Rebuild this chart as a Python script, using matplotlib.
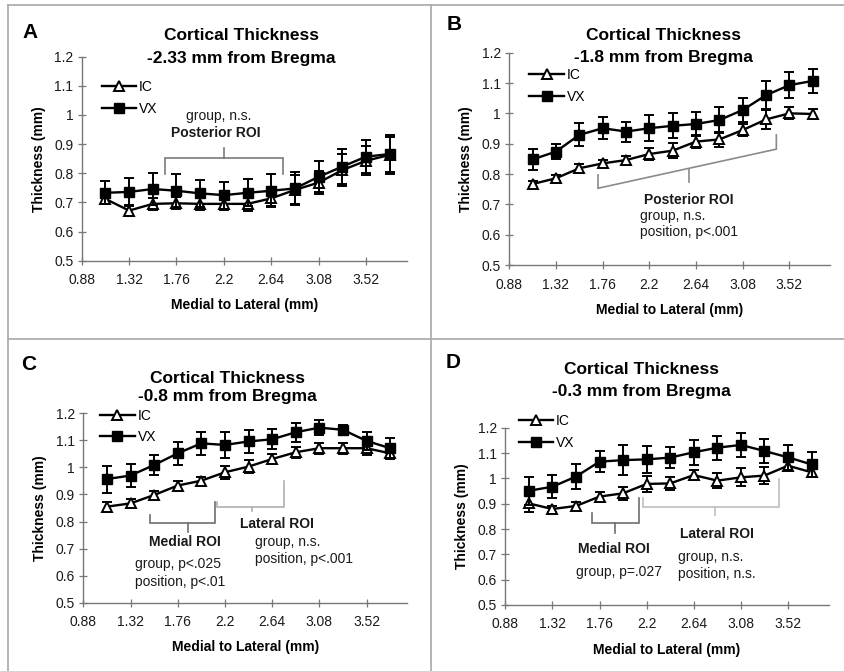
import matplotlib
matplotlib.use("Agg")
import matplotlib.pyplot as plt
from matplotlib.lines import Line2D

plt.rcParams['font.family'] = ['Liberation Sans', 'DejaVu Sans']

# ---------------- data ----------------
positions = [1.10, 1.32, 1.54, 1.76, 1.98, 2.20, 2.42, 2.64, 2.86, 3.08, 3.30, 3.52, 3.74]
x_ticks = [0.88, 1.32, 1.76, 2.2, 2.64, 3.08, 3.52]
x_tick_labels = ["0.88", "1.32", "1.76", "2.2", "2.64", "3.08", "3.52"]
y_ticks = [0.5, 0.6, 0.7, 0.8, 0.9, 1.0, 1.1, 1.2]
y_tick_labels = ["0.5", "0.6", "0.7", "0.8", "0.9", "1", "1.1", "1.2"]
series_names = ["IC", "VX"]

ic_a = [0.712, 0.672, 0.695, 0.697, 0.695, 0.695, 0.695, 0.714, 0.743, 0.768, 0.811, 0.843, 0.863]
ic_a_err = [0.015, 0.018, 0.02, 0.02, 0.02, 0.02, 0.025, 0.025, 0.05, 0.04, 0.055, 0.05, 0.06]
vx_a = [0.733, 0.736, 0.746, 0.740, 0.731, 0.725, 0.733, 0.740, 0.748, 0.788, 0.823, 0.857, 0.866]
vx_a_err = [0.040, 0.047, 0.054, 0.056, 0.046, 0.046, 0.047, 0.057, 0.056, 0.053, 0.061, 0.056, 0.067]

ic_b = [0.767, 0.786, 0.819, 0.835, 0.846, 0.866, 0.877, 0.907, 0.914, 0.945, 0.980, 1.000, 0.998]
ic_b_err = [0.010, 0.010, 0.015, 0.012, 0.015, 0.020, 0.025, 0.020, 0.025, 0.020, 0.030, 0.020, 0.015]
vx_b = [0.848, 0.874, 0.929, 0.951, 0.940, 0.951, 0.959, 0.965, 0.978, 1.011, 1.060, 1.093, 1.107]
vx_b_err = [0.036, 0.025, 0.038, 0.036, 0.033, 0.042, 0.041, 0.041, 0.044, 0.038, 0.047, 0.042, 0.040]

ic_c = [0.855, 0.867, 0.898, 0.933, 0.951, 0.982, 1.003, 1.031, 1.056, 1.071, 1.071, 1.071, 1.052]
ic_c_err = [0.018, 0.015, 0.015, 0.015, 0.015, 0.025, 0.025, 0.020, 0.020, 0.020, 0.020, 0.025, 0.020]
vx_c = [0.957, 0.970, 1.009, 1.052, 1.089, 1.083, 1.096, 1.104, 1.130, 1.147, 1.139, 1.098, 1.071]
vx_c_err = [0.050, 0.042, 0.037, 0.043, 0.043, 0.049, 0.043, 0.037, 0.035, 0.028, 0.018, 0.032, 0.039]

ic_d = [0.901, 0.879, 0.891, 0.928, 0.941, 0.978, 0.980, 1.013, 0.991, 1.004, 1.011, 1.050, 1.024]
ic_d_err = [0.035, 0.012, 0.015, 0.020, 0.025, 0.030, 0.025, 0.020, 0.030, 0.035, 0.035, 0.015, 0.015]
vx_d = [0.951, 0.967, 1.007, 1.066, 1.072, 1.075, 1.082, 1.103, 1.121, 1.132, 1.108, 1.083, 1.055]
vx_d_err = [0.055, 0.046, 0.049, 0.042, 0.059, 0.054, 0.043, 0.049, 0.047, 0.049, 0.046, 0.049, 0.050]

panel_letters = ["A", "B", "C", "D"]
subtitles = ["-2.33 mm from Bregma", "-1.8 mm from Bregma",
             "-0.8 mm from Bregma", "-0.3 mm from Bregma"]

# ---------------- layout (pixels) ----------------
W, H = 844, 671
fig = plt.figure(figsize=(W / 100, H / 100), dpi=100)
fig.patch.set_facecolor("white")

def rect(left, top, right, bottom):
    return [left / W, 1 - bottom / H, (right - left) / W, (bottom - top) / H]

axes_px = [
    (81.7, 56.7, 407.0, 260.7),
    (509.3, 52.7, 829.7, 265.0),
    (83.3, 413.3, 407.3, 602.7),
    (505.3, 427.7, 828.7, 605.0),
]
title_px = [
    (241.7, 36.0, 59.0),
    (663.7, 35.0, 57.3),
    (227.5, 378.3, 396.7),
    (641.0, 369.3, 391.7),
]
letter_px = [(30, 32), (454, 25), (29, 364), (453, 362)]
legend_px = [(101.7, 88.3), (529.3, 76.0), (100.0, 416.7), (518.7, 422.3)]

ic_all = [(ic_a, ic_a_err), (ic_b, ic_b_err), (ic_c, ic_c_err), (ic_d, ic_d_err)]
vx_all = [(vx_a, vx_a_err), (vx_b, vx_b_err), (vx_c, vx_c_err), (vx_d, vx_d_err)]

# brackets: list of (polyline xs, ys, color)
brackets = [
    [([1.654, 1.654, 2.746, 2.746], [0.797, 0.854, 0.854, 0.797], "#7a7a7a"),
     ([2.201, 2.201], [0.854, 0.886], "#7a7a7a")],
    [([1.716, 1.716, 3.397, 3.397], [0.797, 0.753, 0.882, 0.929], "#8a8a8a"),
     ([2.57, 2.57], [0.818, 0.775], "#8a8a8a")],
    [([1.501, 1.501, 2.107, 2.107], [0.824, 0.793, 0.793, 0.874], "#6e6e6e"),
     ([1.858, 1.858], [0.793, 0.763], "#6e6e6e"),
     ([2.128, 2.128, 2.752, 2.752], [0.874, 0.855, 0.855, 0.948], "#b0b0b0"),
     ([2.448, 2.448], [0.855, 0.840], "#b0b0b0")],
    [([1.690, 1.690, 2.126, 2.126], [0.862, 0.822, 0.822, 0.924], "#6e6e6e"),
     ([1.901, 1.901], [0.822, 0.783], "#6e6e6e"),
     ([2.166, 2.166, 3.433, 3.433], [0.921, 0.888, 0.888, 0.997], "#bdbdbd"),
     ([2.836, 2.836], [0.888, 0.855], "#bdbdbd")],
]
# annotations: (x, y, text, bold, ha)
notes = [
    [(2.15, 0.998, "group, n.s.", False, "center"),
     (2.12, 0.937, "Posterior ROI", True, "center")],
    [(2.57, 0.714, "Posterior ROI", True, "center"),
     (2.115, 0.661, "group, n.s.", False, "left"),
     (2.115, 0.608, "position, p<.001", False, "left")],
    [(1.827, 0.723, "Medial ROI", True, "center"),
     (1.361, 0.642, "group, p<.025", False, "left"),
     (1.361, 0.578, "position, p<.01", False, "left"),
     (2.681, 0.790, "Lateral ROI", True, "center"),
     (2.479, 0.723, "group, n.s.", False, "left"),
     (2.479, 0.660, "position, p<.001", False, "left")],
    [(1.892, 0.721, "Medial ROI", True, "center"),
     (1.939, 0.632, "group, p=.027", False, "center"),
     (2.857, 0.779, "Lateral ROI", True, "center"),
     (2.493, 0.691, "group, n.s.", False, "left"),
     (2.493, 0.621, "position, n.s.", False, "left")],
]

# panel border lines
border_col = "#a8a8a8"
fig.add_artist(Line2D([8 / W, 1], [1 - 5 / H, 1 - 5 / H], color=border_col, lw=1.2))
fig.add_artist(Line2D([8 / W, 8 / W], [0, 1 - 5 / H], color=border_col, lw=1.2))
fig.add_artist(Line2D([430.7 / W, 430.7 / W], [0, 1 - 5 / H], color=border_col, lw=1.2))
fig.add_artist(Line2D([8 / W, 1], [1 - 339 / H, 1 - 339 / H], color=border_col, lw=1.2))

spine_col = "#777777"
for i in range(4):
    ax = fig.add_axes(rect(*axes_px[i]))
    ax.set_facecolor("none")
    ic, ic_err = ic_all[i]
    vx, vx_err = vx_all[i]
    h_ic = ax.errorbar(positions, ic, yerr=ic_err, color="black", lw=1.7,
                       marker="^", markersize=7.5, markerfacecolor="white",
                       markeredgecolor="black", markeredgewidth=1.4,
                       ecolor="black", elinewidth=1.4, capsize=3.5, capthick=1.4,
                       label=series_names[0], zorder=3)
    h_vx = ax.errorbar(positions, vx, yerr=vx_err, color="black", lw=1.7,
                       marker="s", markersize=7.5, markerfacecolor="black",
                       markeredgecolor="black",
                       ecolor="black", elinewidth=1.4, capsize=3.5, capthick=1.4,
                       label=series_names[1], zorder=4)
    ax.set_xlim(0.88, 3.9)
    ax.set_ylim(0.5, 1.2)
    ax.set_xticks(x_ticks)
    ax.set_xticklabels(x_tick_labels)
    ax.set_yticks(y_ticks)
    ax.set_yticklabels(y_tick_labels)
    for s in ["top", "right"]:
        ax.spines[s].set_visible(False)
    for s in ["left", "bottom"]:
        ax.spines[s].set_color(spine_col)
        ax.spines[s].set_linewidth(1.0)
    ax.tick_params(axis="both", direction="inout", length=6, width=0.9,
                   color=spine_col, labelsize=10, labelcolor="#1a1a1a")
    ax.tick_params(axis="x", pad=6)
    ax.tick_params(axis="y", pad=3)
    ax.set_xlabel("Medial to Lateral (mm)", fontsize=10, fontweight="bold", labelpad=8)
    ax.set_ylabel("Thickness (mm)", fontsize=10, fontweight="bold", labelpad=6)

    for xs, ys, col in brackets[i]:
        ax.plot(xs, ys, color=col, lw=1.2, zorder=2, solid_joinstyle="miter")
    for x, y, t, b, ha in notes[i]:
        ax.text(x, y, t, fontsize=10, fontweight="bold" if b else "normal",
                ha=ha, va="center", color="#1a1a1a")

    lx, ly = legend_px[i]
    ax.legend(handles=[h_ic.lines[0], h_vx.lines[0]], labels=series_names,
              loc="upper left",
              bbox_to_anchor=(lx / W, 1 - (ly - 8) / H),
              bbox_transform=fig.transFigure, frameon=False,
              fontsize=10, handlelength=2.5, handletextpad=0.2,
              borderpad=0, borderaxespad=0, labelspacing=0.55)

    cx, t1, t2 = title_px[i]
    fig.text(cx / W, 1 - t1 / H, "Cortical Thickness", ha="center", va="center",
             fontsize=12.5, fontweight="bold")
    fig.text(cx / W, 1 - t2 / H, subtitles[i], ha="center", va="center",
             fontsize=12.5, fontweight="bold")
    lx2, ly2 = letter_px[i]
    fig.text(lx2 / W, 1 - ly2 / H, panel_letters[i], ha="center", va="center",
             fontsize=15, fontweight="bold")

fig.savefig("out.png", dpi=100, facecolor="white")
